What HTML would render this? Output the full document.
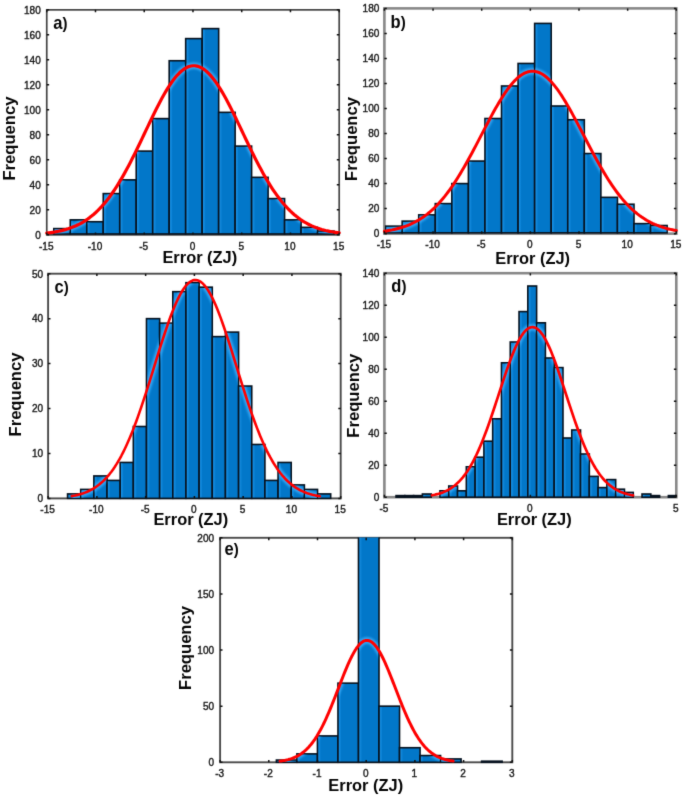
<!DOCTYPE html>
<html><head><meta charset="utf-8"><title>Error histograms</title>
<style>
html,body{margin:0;padding:0;background:#fff;}
body{width:685px;height:797px;overflow:hidden;}
svg{display:block;}
text{font-family:"Liberation Sans",sans-serif;}
.tk text{font-size:10.6px;fill:#1a1a1a;stroke:#1a1a1a;stroke-width:0.4px;}
.pl{font-size:18px;font-weight:bold;fill:#050505;}
.ax{font-size:16.6px;font-weight:bold;fill:#050505;}
.ax2{font-size:17.3px;font-weight:bold;fill:#050505;}
</style></head><body>
<svg width="685" height="797" viewBox="0 0 685 797"><defs><filter id="hb" x="-5%" y="-5%" width="110%" height="110%"><feGaussianBlur stdDeviation="0.9"/></filter><filter id="gblur" x="0" y="0" width="685" height="797" filterUnits="userSpaceOnUse" color-interpolation-filters="sRGB"><feConvolveMatrix order="3" kernelMatrix="0.01134 0.08382 0.01134 0.08382 0.61935 0.08382 0.01134 0.08382 0.01134" edgeMode="duplicate" preserveAlpha="true"/></filter><clipPath id="cpa"><rect x="46.75" y="9.55" width="292.45" height="226.5"/></clipPath><linearGradient id="ga" x1="0" x2="1" y1="0" y2="0"><stop offset="0" stop-color="#168fe4"/><stop offset="0.08" stop-color="#168fe4"/><stop offset="0.21" stop-color="#0277c9"/><stop offset="0.9" stop-color="#0277c9"/><stop offset="1" stop-color="#0c86de"/></linearGradient><clipPath id="cba"><rect x="54.5" y="229.3" width="15.08" height="4.15"/><rect x="70.98" y="220.55" width="15.08" height="12.9"/><rect x="87.47" y="222.42" width="15.08" height="11.02"/><rect x="103.95" y="194.3" width="15.08" height="39.15"/><rect x="120.44" y="180.55" width="15.08" height="52.9"/><rect x="136.92" y="151.8" width="15.08" height="81.65"/><rect x="153.41" y="119.3" width="15.08" height="114.15"/><rect x="169.89" y="61.42" width="15.08" height="172.03"/><rect x="186.38" y="39.3" width="15.08" height="194.15"/><rect x="202.87" y="29.3" width="15.08" height="204.15"/><rect x="219.35" y="113.05" width="15.08" height="120.4"/><rect x="235.83" y="146.8" width="15.08" height="86.65"/><rect x="252.32" y="178.05" width="15.08" height="55.4"/><rect x="268.81" y="199.3" width="15.08" height="34.15"/><rect x="285.29" y="220.55" width="15.08" height="12.9"/><rect x="301.77" y="228.05" width="15.08" height="5.4"/><rect x="318.26" y="231.8" width="15.08" height="1.65"/></clipPath><clipPath id="cpb"><rect x="384.4" y="8.09" width="291.9" height="226.75"/></clipPath><linearGradient id="gb" x1="0" x2="1" y1="0" y2="0"><stop offset="0" stop-color="#168fe4"/><stop offset="0.08" stop-color="#168fe4"/><stop offset="0.21" stop-color="#0277c9"/><stop offset="0.9" stop-color="#0277c9"/><stop offset="1" stop-color="#0c86de"/></linearGradient><clipPath id="cbb"><rect x="386.3" y="226.83" width="15.16" height="5.52"/><rect x="402.86" y="221.83" width="15.16" height="10.52"/><rect x="419.42" y="215.57" width="15.16" height="16.78"/><rect x="435.98" y="204.31" width="15.16" height="28.04"/><rect x="452.54" y="184.28" width="15.16" height="48.07"/><rect x="469.1" y="161.76" width="15.16" height="70.59"/><rect x="485.66" y="119.21" width="15.16" height="113.14"/><rect x="502.22" y="86.68" width="15.16" height="145.67"/><rect x="518.78" y="64.15" width="15.16" height="168.2"/><rect x="535.34" y="24.11" width="15.16" height="208.24"/><rect x="551.9" y="106.7" width="15.16" height="125.65"/><rect x="568.46" y="120.46" width="15.16" height="111.89"/><rect x="585.02" y="154.25" width="15.16" height="78.1"/><rect x="601.58" y="198.05" width="15.16" height="34.3"/><rect x="618.14" y="204.93" width="15.16" height="27.42"/><rect x="634.7" y="224.33" width="15.16" height="8.02"/><rect x="651.26" y="226.21" width="15.16" height="6.14"/></clipPath><clipPath id="cpc"><rect x="48.1" y="273.4" width="292.6" height="226.2"/></clipPath><linearGradient id="gc" x1="0" x2="1" y1="0" y2="0"><stop offset="0" stop-color="#168fe4"/><stop offset="0.1" stop-color="#168fe4"/><stop offset="0.26" stop-color="#0277c9"/><stop offset="0.88" stop-color="#0277c9"/><stop offset="1" stop-color="#0c86de"/></linearGradient><clipPath id="cbc"><rect x="68.25" y="494.61" width="11.76" height="3.29"/><rect x="81.41" y="490.11" width="11.76" height="7.79"/><rect x="94.56" y="476.63" width="11.76" height="21.27"/><rect x="107.72" y="481.12" width="11.76" height="16.78"/><rect x="120.88" y="463.15" width="11.76" height="34.75"/><rect x="134.03" y="427.2" width="11.76" height="70.7"/><rect x="147.19" y="319.34" width="11.76" height="178.56"/><rect x="160.35" y="323.83" width="11.76" height="174.07"/><rect x="173.51" y="292.38" width="11.76" height="205.52"/><rect x="186.66" y="283.39" width="11.76" height="214.51"/><rect x="199.82" y="287.88" width="11.76" height="210.02"/><rect x="212.98" y="337.32" width="11.76" height="160.58"/><rect x="226.13" y="332.82" width="11.76" height="165.08"/><rect x="239.29" y="386.75" width="11.76" height="111.15"/><rect x="252.45" y="445.17" width="11.76" height="52.73"/><rect x="265.6" y="481.12" width="11.76" height="16.78"/><rect x="278.76" y="463.15" width="11.76" height="34.75"/><rect x="291.92" y="485.62" width="11.76" height="12.28"/><rect x="305.08" y="490.11" width="11.76" height="7.79"/><rect x="318.23" y="494.61" width="11.76" height="3.29"/></clipPath><clipPath id="cpd"><rect x="384.4" y="272.9" width="291.9" height="225.5"/></clipPath><linearGradient id="gd" x1="0" x2="1" y1="0" y2="0"><stop offset="0" stop-color="#168fe4"/><stop offset="0.15" stop-color="#168fe4"/><stop offset="0.39" stop-color="#0277c9"/><stop offset="0.82" stop-color="#0277c9"/><stop offset="1" stop-color="#0c86de"/></linearGradient><clipPath id="cbd"><rect x="396.75" y="496.3" width="7.38" height="0.4"/><rect x="405.53" y="496.3" width="7.38" height="0.4"/><rect x="414.32" y="496.3" width="7.38" height="0.4"/><rect x="423.1" y="494.7" width="7.38" height="2"/><rect x="440.67" y="491.5" width="7.38" height="5.2"/><rect x="449.46" y="486.7" width="7.38" height="10"/><rect x="458.24" y="491.5" width="7.38" height="5.2"/><rect x="467.03" y="467.5" width="7.38" height="29.2"/><rect x="475.81" y="457.9" width="7.38" height="38.8"/><rect x="484.6" y="441.9" width="7.38" height="54.8"/><rect x="493.38" y="419.5" width="7.38" height="77.2"/><rect x="502.17" y="363.5" width="7.38" height="133.2"/><rect x="510.95" y="342.7" width="7.38" height="154"/><rect x="519.74" y="312.3" width="7.38" height="184.4"/><rect x="528.52" y="286.7" width="7.38" height="210"/><rect x="537.31" y="323.5" width="7.38" height="173.2"/><rect x="546.09" y="358.7" width="7.38" height="138"/><rect x="554.88" y="368.3" width="7.38" height="128.4"/><rect x="563.66" y="438.7" width="7.38" height="58"/><rect x="572.45" y="430.7" width="7.38" height="66"/><rect x="581.23" y="454.7" width="7.38" height="42"/><rect x="590.02" y="477.1" width="7.38" height="19.6"/><rect x="598.8" y="488.3" width="7.38" height="8.4"/><rect x="607.59" y="480.3" width="7.38" height="16.4"/><rect x="616.37" y="489.9" width="7.38" height="6.8"/><rect x="625.16" y="493.1" width="7.38" height="3.6"/><rect x="642.73" y="494.7" width="7.38" height="2"/><rect x="651.51" y="496.3" width="7.38" height="0.4"/><rect x="669.08" y="496.3" width="7.38" height="0.4"/></clipPath><clipPath id="cpe"><rect x="220.1" y="537.5" width="292.2" height="226"/></clipPath><linearGradient id="ge" x1="0" x2="1" y1="0" y2="0"><stop offset="0" stop-color="#168fe4"/><stop offset="0.06" stop-color="#168fe4"/><stop offset="0.17" stop-color="#0277c9"/><stop offset="0.92" stop-color="#0277c9"/><stop offset="1" stop-color="#0c86de"/></linearGradient><clipPath id="cbe"><rect x="277.1" y="760.75" width="19.12" height="1.05"/><rect x="297.62" y="754.58" width="19.12" height="7.22"/><rect x="318.14" y="736.62" width="19.12" height="25.18"/><rect x="338.66" y="683.86" width="19.12" height="77.94"/><rect x="359.18" y="538.5" width="19.12" height="223.3"/><rect x="379.7" y="706.88" width="19.12" height="54.92"/><rect x="400.22" y="748.41" width="19.12" height="13.39"/><rect x="420.74" y="756.26" width="19.12" height="5.54"/><rect x="441.26" y="759.63" width="19.12" height="2.17"/><rect x="482.3" y="761.88" width="19.12" height="0"/></clipPath></defs><g filter="url(#gblur)"><rect width="685" height="797" fill="#fff"/><g><rect x="46.75" y="9.85" width="292.45" height="225" fill="none" stroke="#444" stroke-width="1.7"/><g clip-path="url(#cpa)" fill="url(#ga)" stroke="#06121f" stroke-width="1.6"><rect x="53.8" y="228.6" width="16.48" height="5.35"/><rect x="70.28" y="219.85" width="16.48" height="14.1"/><rect x="86.77" y="221.72" width="16.48" height="12.22"/><rect x="103.25" y="193.6" width="16.48" height="40.35"/><rect x="119.74" y="179.85" width="16.48" height="54.1"/><rect x="136.22" y="151.1" width="16.48" height="82.85"/><rect x="152.71" y="118.6" width="16.48" height="115.35"/><rect x="169.19" y="60.72" width="16.48" height="173.22"/><rect x="185.68" y="38.6" width="16.48" height="195.35"/><rect x="202.17" y="28.6" width="16.48" height="205.35"/><rect x="218.65" y="112.35" width="16.48" height="121.6"/><rect x="235.13" y="146.1" width="16.48" height="87.85"/><rect x="251.62" y="177.35" width="16.48" height="56.6"/><rect x="268.11" y="198.6" width="16.48" height="35.35"/><rect x="284.59" y="219.85" width="16.48" height="14.1"/><rect x="301.07" y="227.35" width="16.48" height="6.6"/><rect x="317.56" y="231.1" width="16.48" height="2.85"/></g><g clip-path="url(#cba)"><polyline filter="url(#hb)" points="46.75,233.06 48.7,232.84 50.65,232.58 52.6,232.3 54.55,231.99 56.5,231.65 58.45,231.27 60.4,230.85 62.35,230.4 64.3,229.89 66.25,229.34 68.2,228.74 70.15,228.08 72.1,227.36 74.05,226.58 76,225.74 77.94,224.82 79.89,223.83 81.84,222.76 83.79,221.61 85.74,220.37 87.69,219.03 89.64,217.61 91.59,216.09 93.54,214.46 95.49,212.73 97.44,210.89 99.39,208.94 101.34,206.87 103.29,204.69 105.24,202.39 107.19,199.97 109.14,197.44 111.09,194.78 113.04,192 114.99,189.1 116.94,186.08 118.89,182.94 120.84,179.7 122.79,176.34 124.74,172.88 126.69,169.32 128.64,165.66 130.59,161.92 132.54,158.1 134.49,154.2 136.43,150.25 138.38,146.24 140.33,142.19 142.28,138.11 144.23,134.01 146.18,129.91 148.13,125.82 150.08,121.74 152.03,117.7 153.98,113.72 155.93,109.79 157.88,105.95 159.83,102.2 161.78,98.56 163.73,95.04 165.68,91.66 167.63,88.43 169.58,85.37 171.53,82.49 173.48,79.81 175.43,77.33 177.38,75.06 179.33,73.02 181.28,71.22 183.23,69.66 185.18,68.35 187.13,67.3 189.08,66.52 191.03,66 192.97,65.75 194.92,65.77 196.87,66.06 198.82,66.62 200.77,67.45 202.72,68.53 204.67,69.88 206.62,71.47 208.57,73.31 210.52,75.39 212.47,77.69 214.42,80.2 216.37,82.91 218.32,85.82 220.27,88.91 222.22,92.16 224.17,95.56 226.12,99.09 228.07,102.75 230.02,106.52 231.97,110.38 233.92,114.31 235.87,118.31 237.82,122.35 239.77,126.43 241.72,130.53 243.67,134.63 245.62,138.72 247.57,142.8 249.52,146.84 251.47,150.84 253.41,154.79 255.36,158.67 257.31,162.48 259.26,166.21 261.21,169.86 263.16,173.4 265.11,176.85 267.06,180.19 269.01,183.42 270.96,186.54 272.91,189.54 274.86,192.42 276.81,195.18 278.76,197.82 280.71,200.35 282.66,202.75 284.61,205.03 286.56,207.19 288.51,209.24 290.46,211.17 292.41,213 294.36,214.71 296.31,216.32 298.26,217.83 300.21,219.24 302.16,220.56 304.11,221.78 306.06,222.92 308.01,223.98 309.95,224.96 311.9,225.87 313.85,226.7 315.8,227.47 317.75,228.18 319.7,228.83 321.65,229.43 323.6,229.97 325.55,230.47 327.5,230.92 329.45,231.33 331.4,231.7 333.35,232.04 335.3,232.35 337.25,232.62 339.2,232.87" fill="none" stroke="#35a8f5" stroke-width="6.5" stroke-linejoin="round"/></g><polyline points="46.75,233.06 48.7,232.84 50.65,232.58 52.6,232.3 54.55,231.99 56.5,231.65 58.45,231.27 60.4,230.85 62.35,230.4 64.3,229.89 66.25,229.34 68.2,228.74 70.15,228.08 72.1,227.36 74.05,226.58 76,225.74 77.94,224.82 79.89,223.83 81.84,222.76 83.79,221.61 85.74,220.37 87.69,219.03 89.64,217.61 91.59,216.09 93.54,214.46 95.49,212.73 97.44,210.89 99.39,208.94 101.34,206.87 103.29,204.69 105.24,202.39 107.19,199.97 109.14,197.44 111.09,194.78 113.04,192 114.99,189.1 116.94,186.08 118.89,182.94 120.84,179.7 122.79,176.34 124.74,172.88 126.69,169.32 128.64,165.66 130.59,161.92 132.54,158.1 134.49,154.2 136.43,150.25 138.38,146.24 140.33,142.19 142.28,138.11 144.23,134.01 146.18,129.91 148.13,125.82 150.08,121.74 152.03,117.7 153.98,113.72 155.93,109.79 157.88,105.95 159.83,102.2 161.78,98.56 163.73,95.04 165.68,91.66 167.63,88.43 169.58,85.37 171.53,82.49 173.48,79.81 175.43,77.33 177.38,75.06 179.33,73.02 181.28,71.22 183.23,69.66 185.18,68.35 187.13,67.3 189.08,66.52 191.03,66 192.97,65.75 194.92,65.77 196.87,66.06 198.82,66.62 200.77,67.45 202.72,68.53 204.67,69.88 206.62,71.47 208.57,73.31 210.52,75.39 212.47,77.69 214.42,80.2 216.37,82.91 218.32,85.82 220.27,88.91 222.22,92.16 224.17,95.56 226.12,99.09 228.07,102.75 230.02,106.52 231.97,110.38 233.92,114.31 235.87,118.31 237.82,122.35 239.77,126.43 241.72,130.53 243.67,134.63 245.62,138.72 247.57,142.8 249.52,146.84 251.47,150.84 253.41,154.79 255.36,158.67 257.31,162.48 259.26,166.21 261.21,169.86 263.16,173.4 265.11,176.85 267.06,180.19 269.01,183.42 270.96,186.54 272.91,189.54 274.86,192.42 276.81,195.18 278.76,197.82 280.71,200.35 282.66,202.75 284.61,205.03 286.56,207.19 288.51,209.24 290.46,211.17 292.41,213 294.36,214.71 296.31,216.32 298.26,217.83 300.21,219.24 302.16,220.56 304.11,221.78 306.06,222.92 308.01,223.98 309.95,224.96 311.9,225.87 313.85,226.7 315.8,227.47 317.75,228.18 319.7,228.83 321.65,229.43 323.6,229.97 325.55,230.47 327.5,230.92 329.45,231.33 331.4,231.7 333.35,232.04 335.3,232.35 337.25,232.62 339.2,232.87" fill="none" stroke="#ff0000" stroke-width="3.2" stroke-linejoin="round" stroke-linecap="round"/><path d="M46.75 234.85h2.4M339.2 234.85h-2.4M46.75 209.85h2.4M339.2 209.85h-2.4M46.75 184.85h2.4M339.2 184.85h-2.4M46.75 159.85h2.4M339.2 159.85h-2.4M46.75 134.85h2.4M339.2 134.85h-2.4M46.75 109.85h2.4M339.2 109.85h-2.4M46.75 84.85h2.4M339.2 84.85h-2.4M46.75 59.85h2.4M339.2 59.85h-2.4M46.75 34.85h2.4M339.2 34.85h-2.4M46.75 9.85h2.4M339.2 9.85h-2.4M46.75 9.85v2.4M46.75 234.85v-2.4M95.49 9.85v2.4M95.49 234.85v-2.4M144.23 9.85v2.4M144.23 234.85v-2.4M192.97 9.85v2.4M192.97 234.85v-2.4M241.72 9.85v2.4M241.72 234.85v-2.4M290.46 9.85v2.4M290.46 234.85v-2.4M339.2 9.85v2.4M339.2 234.85v-2.4" stroke="#111" stroke-width="1.5" fill="none"/><g class="tk"><text transform="translate(40.75 238.65) scale(0.95 1)" text-anchor="end">0</text><text transform="translate(40.75 213.65) scale(0.95 1)" text-anchor="end">20</text><text transform="translate(40.75 188.65) scale(0.95 1)" text-anchor="end">40</text><text transform="translate(40.75 163.65) scale(0.95 1)" text-anchor="end">60</text><text transform="translate(40.75 138.65) scale(0.95 1)" text-anchor="end">80</text><text transform="translate(40.75 113.65) scale(0.95 1)" text-anchor="end">100</text><text transform="translate(40.75 88.65) scale(0.95 1)" text-anchor="end">120</text><text transform="translate(40.75 63.65) scale(0.95 1)" text-anchor="end">140</text><text transform="translate(40.75 38.65) scale(0.95 1)" text-anchor="end">160</text><text transform="translate(40.75 13.65) scale(0.95 1)" text-anchor="end">180</text><text transform="translate(46.25 249.95) scale(0.95 1)" text-anchor="middle">-15</text><text transform="translate(94.99 249.95) scale(0.95 1)" text-anchor="middle">-10</text><text transform="translate(143.73 249.95) scale(0.95 1)" text-anchor="middle">-5</text><text transform="translate(192.47 249.95) scale(0.95 1)" text-anchor="middle">0</text><text transform="translate(241.22 249.95) scale(0.95 1)" text-anchor="middle">5</text><text transform="translate(289.96 249.95) scale(0.95 1)" text-anchor="middle">10</text><text transform="translate(338.7 249.95) scale(0.95 1)" text-anchor="middle">15</text></g><text class="pl" transform="translate(53.3 28.6) scale(0.92 1)">a<tspan style="font-size:16.3px">)</tspan></text><text class="ax" transform="translate(14.8 138.6) rotate(-90)" text-anchor="middle">Frequency</text><text class="ax2" transform="translate(199.8 262.8) scale(0.95 1)" text-anchor="middle">Error (ZJ)</text></g><g><rect x="384.4" y="8.39" width="291.9" height="225.25" fill="none" stroke="#888" stroke-width="2.6"/><g clip-path="url(#cpb)" fill="url(#gb)" stroke="#06121f" stroke-width="1.6"><rect x="385.6" y="226.13" width="16.56" height="6.72"/><rect x="402.16" y="221.13" width="16.56" height="11.72"/><rect x="418.72" y="214.87" width="16.56" height="17.98"/><rect x="435.28" y="203.61" width="16.56" height="29.24"/><rect x="451.84" y="183.58" width="16.56" height="49.27"/><rect x="468.4" y="161.06" width="16.56" height="71.79"/><rect x="484.96" y="118.51" width="16.56" height="114.34"/><rect x="501.52" y="85.98" width="16.56" height="146.87"/><rect x="518.08" y="63.45" width="16.56" height="169.4"/><rect x="534.64" y="23.41" width="16.56" height="209.44"/><rect x="551.2" y="106" width="16.56" height="126.85"/><rect x="567.76" y="119.76" width="16.56" height="113.09"/><rect x="584.32" y="153.55" width="16.56" height="79.3"/><rect x="600.88" y="197.35" width="16.56" height="35.5"/><rect x="617.44" y="204.23" width="16.56" height="28.62"/><rect x="634" y="223.63" width="16.56" height="9.22"/><rect x="650.56" y="225.51" width="16.56" height="7.34"/></g><g clip-path="url(#cbb)"><polyline filter="url(#hb)" points="384.4,231.18 386.35,230.9 388.29,230.59 390.24,230.24 392.18,229.87 394.13,229.45 396.08,229 398.02,228.51 399.97,227.98 401.91,227.39 403.86,226.76 405.81,226.08 407.75,225.34 409.7,224.53 411.64,223.67 413.59,222.74 415.54,221.74 417.48,220.67 419.43,219.52 421.37,218.29 423.32,216.98 425.27,215.58 427.21,214.1 429.16,212.52 431.1,210.85 433.05,209.08 435,207.22 436.94,205.25 438.89,203.18 440.83,201.01 442.78,198.73 444.73,196.35 446.67,193.86 448.62,191.27 450.56,188.57 452.51,185.78 454.46,182.88 456.4,179.89 458.35,176.8 460.29,173.62 462.24,170.35 464.19,167 466.13,163.58 468.08,160.09 470.02,156.54 471.97,152.93 473.92,149.27 475.86,145.58 477.81,141.86 479.75,138.12 481.7,134.37 483.65,130.62 485.59,126.89 487.54,123.18 489.48,119.51 491.43,115.89 493.38,112.33 495.32,108.84 497.27,105.43 499.21,102.13 501.16,98.93 503.11,95.86 505.05,92.92 507,90.13 508.94,87.49 510.89,85.02 512.84,82.72 514.78,80.61 516.73,78.7 518.67,76.99 520.62,75.49 522.57,74.21 524.51,73.15 526.46,72.32 528.4,71.72 530.35,71.35 532.3,71.21 534.24,71.31 536.19,71.65 538.13,72.21 540.08,73.01 542.03,74.04 543.97,75.29 545.92,76.75 547.86,78.43 549.81,80.32 551.76,82.39 553.7,84.66 555.65,87.11 557.59,89.72 559.54,92.49 561.49,95.41 563.43,98.46 565.38,101.64 567.32,104.93 569.27,108.32 571.22,111.8 573.16,115.35 575.11,118.97 577.05,122.63 579,126.33 580.95,130.06 582.89,133.81 584.84,137.56 586.78,141.3 588.73,145.02 590.68,148.72 592.62,152.38 594.57,156 596.51,159.56 598.46,163.06 600.41,166.5 602.35,169.85 604.3,173.13 606.24,176.32 608.19,179.43 610.14,182.44 612.08,185.35 614.03,188.16 615.97,190.87 617.92,193.48 619.87,195.98 621.81,198.38 623.76,200.67 625.7,202.86 627.65,204.95 629.6,206.93 631.54,208.81 633.49,210.59 635.43,212.28 637.38,213.87 639.33,215.37 641.27,216.78 643.22,218.1 645.16,219.34 647.11,220.5 649.06,221.58 651,222.6 652.95,223.54 654.89,224.41 656.84,225.22 658.79,225.97 660.73,226.66 662.68,227.3 664.62,227.89 666.57,228.44 668.52,228.93 670.46,229.39 672.41,229.81 674.35,230.19 676.3,230.54" fill="none" stroke="#35a8f5" stroke-width="6.5" stroke-linejoin="round"/></g><polyline points="384.4,231.18 386.35,230.9 388.29,230.59 390.24,230.24 392.18,229.87 394.13,229.45 396.08,229 398.02,228.51 399.97,227.98 401.91,227.39 403.86,226.76 405.81,226.08 407.75,225.34 409.7,224.53 411.64,223.67 413.59,222.74 415.54,221.74 417.48,220.67 419.43,219.52 421.37,218.29 423.32,216.98 425.27,215.58 427.21,214.1 429.16,212.52 431.1,210.85 433.05,209.08 435,207.22 436.94,205.25 438.89,203.18 440.83,201.01 442.78,198.73 444.73,196.35 446.67,193.86 448.62,191.27 450.56,188.57 452.51,185.78 454.46,182.88 456.4,179.89 458.35,176.8 460.29,173.62 462.24,170.35 464.19,167 466.13,163.58 468.08,160.09 470.02,156.54 471.97,152.93 473.92,149.27 475.86,145.58 477.81,141.86 479.75,138.12 481.7,134.37 483.65,130.62 485.59,126.89 487.54,123.18 489.48,119.51 491.43,115.89 493.38,112.33 495.32,108.84 497.27,105.43 499.21,102.13 501.16,98.93 503.11,95.86 505.05,92.92 507,90.13 508.94,87.49 510.89,85.02 512.84,82.72 514.78,80.61 516.73,78.7 518.67,76.99 520.62,75.49 522.57,74.21 524.51,73.15 526.46,72.32 528.4,71.72 530.35,71.35 532.3,71.21 534.24,71.31 536.19,71.65 538.13,72.21 540.08,73.01 542.03,74.04 543.97,75.29 545.92,76.75 547.86,78.43 549.81,80.32 551.76,82.39 553.7,84.66 555.65,87.11 557.59,89.72 559.54,92.49 561.49,95.41 563.43,98.46 565.38,101.64 567.32,104.93 569.27,108.32 571.22,111.8 573.16,115.35 575.11,118.97 577.05,122.63 579,126.33 580.95,130.06 582.89,133.81 584.84,137.56 586.78,141.3 588.73,145.02 590.68,148.72 592.62,152.38 594.57,156 596.51,159.56 598.46,163.06 600.41,166.5 602.35,169.85 604.3,173.13 606.24,176.32 608.19,179.43 610.14,182.44 612.08,185.35 614.03,188.16 615.97,190.87 617.92,193.48 619.87,195.98 621.81,198.38 623.76,200.67 625.7,202.86 627.65,204.95 629.6,206.93 631.54,208.81 633.49,210.59 635.43,212.28 637.38,213.87 639.33,215.37 641.27,216.78 643.22,218.1 645.16,219.34 647.11,220.5 649.06,221.58 651,222.6 652.95,223.54 654.89,224.41 656.84,225.22 658.79,225.97 660.73,226.66 662.68,227.3 664.62,227.89 666.57,228.44 668.52,228.93 670.46,229.39 672.41,229.81 674.35,230.19 676.3,230.54" fill="none" stroke="#ff0000" stroke-width="3.0" stroke-linejoin="round" stroke-linecap="round"/><path d="M384.4 233.64h2.4M676.3 233.64h-2.4M384.4 208.61h2.4M676.3 208.61h-2.4M384.4 183.58h2.4M676.3 183.58h-2.4M384.4 158.56h2.4M676.3 158.56h-2.4M384.4 133.53h2.4M676.3 133.53h-2.4M384.4 108.5h2.4M676.3 108.5h-2.4M384.4 83.47h2.4M676.3 83.47h-2.4M384.4 58.45h2.4M676.3 58.45h-2.4M384.4 33.42h2.4M676.3 33.42h-2.4M384.4 8.39h2.4M676.3 8.39h-2.4M384.4 8.39v2.4M384.4 233.64v-2.4M433.05 8.39v2.4M433.05 233.64v-2.4M481.7 8.39v2.4M481.7 233.64v-2.4M530.35 8.39v2.4M530.35 233.64v-2.4M579 8.39v2.4M579 233.64v-2.4M627.65 8.39v2.4M627.65 233.64v-2.4M676.3 8.39v2.4M676.3 233.64v-2.4" stroke="#111" stroke-width="1.5" fill="none"/><g class="tk"><text transform="translate(379.4 237.44) scale(0.95 1)" text-anchor="end">0</text><text transform="translate(379.4 212.41) scale(0.95 1)" text-anchor="end">20</text><text transform="translate(379.4 187.38) scale(0.95 1)" text-anchor="end">40</text><text transform="translate(379.4 162.36) scale(0.95 1)" text-anchor="end">60</text><text transform="translate(379.4 137.33) scale(0.95 1)" text-anchor="end">80</text><text transform="translate(379.4 112.3) scale(0.95 1)" text-anchor="end">100</text><text transform="translate(379.4 87.27) scale(0.95 1)" text-anchor="end">120</text><text transform="translate(379.4 62.25) scale(0.95 1)" text-anchor="end">140</text><text transform="translate(379.4 37.22) scale(0.95 1)" text-anchor="end">160</text><text transform="translate(379.4 12.19) scale(0.95 1)" text-anchor="end">180</text><text transform="translate(383.9 248.24) scale(0.95 1)" text-anchor="middle">-15</text><text transform="translate(432.55 248.24) scale(0.95 1)" text-anchor="middle">-10</text><text transform="translate(481.2 248.24) scale(0.95 1)" text-anchor="middle">-5</text><text transform="translate(529.85 248.24) scale(0.95 1)" text-anchor="middle">0</text><text transform="translate(578.5 248.24) scale(0.95 1)" text-anchor="middle">5</text><text transform="translate(627.15 248.24) scale(0.95 1)" text-anchor="middle">10</text><text transform="translate(675.8 248.24) scale(0.95 1)" text-anchor="middle">15</text></g><text class="pl" transform="translate(390.6 27.6) scale(0.92 1)">b<tspan style="font-size:16.3px">)</tspan></text><text class="ax" transform="translate(357 139) rotate(-90)" text-anchor="middle">Frequency</text><text class="ax2" transform="translate(532.6 264) scale(0.95 1)" text-anchor="middle">Error (ZJ)</text></g><g><rect x="48.1" y="273.7" width="292.6" height="224.7" fill="none" stroke="#4a4a4a" stroke-width="1.9"/><g clip-path="url(#cpc)" fill="url(#gc)" stroke="#06121f" stroke-width="1.6"><rect x="67.55" y="493.91" width="13.16" height="4.49"/><rect x="80.71" y="489.41" width="13.16" height="8.99"/><rect x="93.86" y="475.93" width="13.16" height="22.47"/><rect x="107.02" y="480.42" width="13.16" height="17.98"/><rect x="120.18" y="462.45" width="13.16" height="35.95"/><rect x="133.33" y="426.5" width="13.16" height="71.9"/><rect x="146.49" y="318.64" width="13.16" height="179.76"/><rect x="159.65" y="323.13" width="13.16" height="175.27"/><rect x="172.81" y="291.68" width="13.16" height="206.72"/><rect x="185.96" y="282.69" width="13.16" height="215.71"/><rect x="199.12" y="287.18" width="13.16" height="211.22"/><rect x="212.28" y="336.62" width="13.16" height="161.78"/><rect x="225.43" y="332.12" width="13.16" height="166.28"/><rect x="238.59" y="386.05" width="13.16" height="112.35"/><rect x="251.75" y="444.47" width="13.16" height="53.93"/><rect x="264.9" y="480.42" width="13.16" height="17.98"/><rect x="278.06" y="462.45" width="13.16" height="35.95"/><rect x="291.22" y="484.92" width="13.16" height="13.48"/><rect x="304.38" y="489.41" width="13.16" height="8.99"/><rect x="317.53" y="493.91" width="13.16" height="4.49"/></g><g clip-path="url(#cbc)"><polyline filter="url(#hb)" points="71.7,496.11 73.36,495.81 75.01,495.49 76.67,495.12 78.32,494.72 79.97,494.27 81.63,493.78 83.28,493.23 84.94,492.63 86.59,491.97 88.24,491.25 89.9,490.46 91.55,489.6 93.21,488.66 94.86,487.64 96.52,486.53 98.17,485.32 99.82,484.02 101.48,482.61 103.13,481.09 104.79,479.46 106.44,477.71 108.09,475.83 109.75,473.83 111.4,471.68 113.06,469.4 114.71,466.97 116.37,464.4 118.02,461.68 119.67,458.8 121.33,455.77 122.98,452.58 124.64,449.23 126.29,445.72 127.94,442.05 129.6,438.23 131.25,434.25 132.91,430.12 134.56,425.84 136.22,421.42 137.87,416.87 139.52,412.18 141.18,407.37 142.83,402.46 144.49,397.44 146.14,392.33 147.79,387.15 149.45,381.9 151.1,376.6 152.76,371.28 154.41,365.93 156.07,360.58 157.72,355.25 159.37,349.96 161.03,344.72 162.68,339.56 164.34,334.49 165.99,329.54 167.64,324.72 169.3,320.05 170.95,315.55 172.61,311.25 174.26,307.16 175.92,303.3 177.57,299.68 179.22,296.33 180.88,293.25 182.53,290.47 184.19,287.99 185.84,285.83 187.49,284 189.15,282.5 190.8,281.35 192.46,280.55 194.11,280.1 195.77,280 197.42,280.26 199.07,280.88 200.73,281.85 202.38,283.16 204.04,284.82 205.69,286.81 207.34,289.12 209,291.74 210.65,294.67 212.31,297.87 213.96,301.35 215.62,305.09 217.27,309.06 218.92,313.26 220.58,317.65 222.23,322.23 223.89,326.97 225.54,331.86 227.19,336.87 228.85,341.99 230.5,347.19 232.16,352.45 233.81,357.76 235.47,363.1 237.12,368.45 238.77,373.79 240.43,379.11 242.08,384.38 243.74,389.6 245.39,394.75 247.04,399.82 248.7,404.79 250.35,409.66 252.01,414.41 253.66,419.03 255.32,423.52 256.97,427.88 258.62,432.09 260.28,436.15 261.93,440.05 263.59,443.8 265.24,447.39 266.89,450.83 268.55,454.1 270.2,457.22 271.86,460.18 273.51,462.98 275.17,465.63 276.82,468.14 278.47,470.49 280.13,472.71 281.78,474.79 283.44,476.73 285.09,478.55 286.74,480.25 288.4,481.82 290.05,483.29 291.71,484.65 293.36,485.9 295.02,487.06 296.67,488.13 298.32,489.11 299.98,490.02 301.63,490.85 303.29,491.6 304.94,492.29 306.59,492.92 308.25,493.5 309.9,494.02 311.56,494.49 313.21,494.91 314.87,495.3 316.52,495.64 318.17,495.96 319.83,496.24" fill="none" stroke="#35a8f5" stroke-width="6.5" stroke-linejoin="round"/></g><polyline points="71.7,496.11 73.36,495.81 75.01,495.49 76.67,495.12 78.32,494.72 79.97,494.27 81.63,493.78 83.28,493.23 84.94,492.63 86.59,491.97 88.24,491.25 89.9,490.46 91.55,489.6 93.21,488.66 94.86,487.64 96.52,486.53 98.17,485.32 99.82,484.02 101.48,482.61 103.13,481.09 104.79,479.46 106.44,477.71 108.09,475.83 109.75,473.83 111.4,471.68 113.06,469.4 114.71,466.97 116.37,464.4 118.02,461.68 119.67,458.8 121.33,455.77 122.98,452.58 124.64,449.23 126.29,445.72 127.94,442.05 129.6,438.23 131.25,434.25 132.91,430.12 134.56,425.84 136.22,421.42 137.87,416.87 139.52,412.18 141.18,407.37 142.83,402.46 144.49,397.44 146.14,392.33 147.79,387.15 149.45,381.9 151.1,376.6 152.76,371.28 154.41,365.93 156.07,360.58 157.72,355.25 159.37,349.96 161.03,344.72 162.68,339.56 164.34,334.49 165.99,329.54 167.64,324.72 169.3,320.05 170.95,315.55 172.61,311.25 174.26,307.16 175.92,303.3 177.57,299.68 179.22,296.33 180.88,293.25 182.53,290.47 184.19,287.99 185.84,285.83 187.49,284 189.15,282.5 190.8,281.35 192.46,280.55 194.11,280.1 195.77,280 197.42,280.26 199.07,280.88 200.73,281.85 202.38,283.16 204.04,284.82 205.69,286.81 207.34,289.12 209,291.74 210.65,294.67 212.31,297.87 213.96,301.35 215.62,305.09 217.27,309.06 218.92,313.26 220.58,317.65 222.23,322.23 223.89,326.97 225.54,331.86 227.19,336.87 228.85,341.99 230.5,347.19 232.16,352.45 233.81,357.76 235.47,363.1 237.12,368.45 238.77,373.79 240.43,379.11 242.08,384.38 243.74,389.6 245.39,394.75 247.04,399.82 248.7,404.79 250.35,409.66 252.01,414.41 253.66,419.03 255.32,423.52 256.97,427.88 258.62,432.09 260.28,436.15 261.93,440.05 263.59,443.8 265.24,447.39 266.89,450.83 268.55,454.1 270.2,457.22 271.86,460.18 273.51,462.98 275.17,465.63 276.82,468.14 278.47,470.49 280.13,472.71 281.78,474.79 283.44,476.73 285.09,478.55 286.74,480.25 288.4,481.82 290.05,483.29 291.71,484.65 293.36,485.9 295.02,487.06 296.67,488.13 298.32,489.11 299.98,490.02 301.63,490.85 303.29,491.6 304.94,492.29 306.59,492.92 308.25,493.5 309.9,494.02 311.56,494.49 313.21,494.91 314.87,495.3 316.52,495.64 318.17,495.96 319.83,496.24" fill="none" stroke="#ff0000" stroke-width="2.6" stroke-linejoin="round" stroke-linecap="round"/><path d="M48.1 498.4h2.4M340.7 498.4h-2.4M48.1 453.46h2.4M340.7 453.46h-2.4M48.1 408.52h2.4M340.7 408.52h-2.4M48.1 363.58h2.4M340.7 363.58h-2.4M48.1 318.64h2.4M340.7 318.64h-2.4M48.1 273.7h2.4M340.7 273.7h-2.4M48.1 273.7v2.4M48.1 498.4v-2.4M96.87 273.7v2.4M96.87 498.4v-2.4M145.63 273.7v2.4M145.63 498.4v-2.4M194.4 273.7v2.4M194.4 498.4v-2.4M243.17 273.7v2.4M243.17 498.4v-2.4M291.93 273.7v2.4M291.93 498.4v-2.4M340.7 273.7v2.4M340.7 498.4v-2.4" stroke="#111" stroke-width="1.5" fill="none"/><g class="tk"><text transform="translate(43.1 502.2) scale(0.95 1)" text-anchor="end">0</text><text transform="translate(43.1 457.26) scale(0.95 1)" text-anchor="end">10</text><text transform="translate(43.1 412.32) scale(0.95 1)" text-anchor="end">20</text><text transform="translate(43.1 367.38) scale(0.95 1)" text-anchor="end">30</text><text transform="translate(43.1 322.44) scale(0.95 1)" text-anchor="end">40</text><text transform="translate(43.1 277.5) scale(0.95 1)" text-anchor="end">50</text><text transform="translate(47.6 513.2) scale(0.95 1)" text-anchor="middle">-15</text><text transform="translate(96.37 513.2) scale(0.95 1)" text-anchor="middle">-10</text><text transform="translate(145.13 513.2) scale(0.95 1)" text-anchor="middle">-5</text><text transform="translate(193.9 513.2) scale(0.95 1)" text-anchor="middle">0</text><text transform="translate(242.67 513.2) scale(0.95 1)" text-anchor="middle">5</text><text transform="translate(291.43 513.2) scale(0.95 1)" text-anchor="middle">10</text><text transform="translate(340.2 513.2) scale(0.95 1)" text-anchor="middle">15</text></g><text class="pl" transform="translate(54.6 293.3) scale(0.92 1)">c<tspan style="font-size:16.3px">)</tspan></text><text class="ax" transform="translate(20.8 394.5) rotate(-90)" text-anchor="middle">Frequency</text><text class="ax2" transform="translate(190.8 525.2) scale(0.95 1)" text-anchor="middle">Error (ZJ)</text></g><g><rect x="384.4" y="273.2" width="291.9" height="224" fill="none" stroke="#888" stroke-width="2.6"/><g clip-path="url(#cpd)" fill="url(#gd)" stroke="#06121f" stroke-width="1.6"><rect x="396.05" y="495.6" width="8.79" height="1.6"/><rect x="404.83" y="495.6" width="8.79" height="1.6"/><rect x="413.62" y="495.6" width="8.79" height="1.6"/><rect x="422.4" y="494" width="8.79" height="3.2"/><rect x="439.97" y="490.8" width="8.79" height="6.4"/><rect x="448.76" y="486" width="8.79" height="11.2"/><rect x="457.54" y="490.8" width="8.79" height="6.4"/><rect x="466.33" y="466.8" width="8.79" height="30.4"/><rect x="475.11" y="457.2" width="8.79" height="40"/><rect x="483.9" y="441.2" width="8.79" height="56"/><rect x="492.68" y="418.8" width="8.79" height="78.4"/><rect x="501.47" y="362.8" width="8.79" height="134.4"/><rect x="510.25" y="342" width="8.79" height="155.2"/><rect x="519.04" y="311.6" width="8.79" height="185.6"/><rect x="527.82" y="286" width="8.79" height="211.2"/><rect x="536.61" y="322.8" width="8.79" height="174.4"/><rect x="545.39" y="358" width="8.79" height="139.2"/><rect x="554.18" y="367.6" width="8.79" height="129.6"/><rect x="562.96" y="438" width="8.79" height="59.2"/><rect x="571.75" y="430" width="8.79" height="67.2"/><rect x="580.53" y="454" width="8.79" height="43.2"/><rect x="589.32" y="476.4" width="8.79" height="20.8"/><rect x="598.1" y="487.6" width="8.79" height="9.6"/><rect x="606.89" y="479.6" width="8.79" height="17.6"/><rect x="615.67" y="489.2" width="8.79" height="8"/><rect x="624.46" y="492.4" width="8.79" height="4.8"/><rect x="642.03" y="494" width="8.79" height="3.2"/><rect x="650.81" y="495.6" width="8.79" height="1.6"/><rect x="668.38" y="495.6" width="8.79" height="1.6"/></g><g clip-path="url(#cbd)"><polyline filter="url(#hb)" points="431.98,495.26 433.32,495.02 434.66,494.75 436,494.44 437.34,494.11 438.68,493.75 440.02,493.34 441.37,492.9 442.71,492.41 444.05,491.87 445.39,491.29 446.73,490.65 448.07,489.95 449.41,489.19 450.75,488.37 452.09,487.47 453.43,486.51 454.77,485.46 456.11,484.34 457.45,483.12 458.8,481.82 460.14,480.43 461.48,478.94 462.82,477.35 464.16,475.65 465.5,473.85 466.84,471.93 468.18,469.9 469.52,467.76 470.86,465.5 472.2,463.12 473.54,460.62 474.89,457.99 476.23,455.25 477.57,452.39 478.91,449.41 480.25,446.31 481.59,443.09 482.93,439.76 484.27,436.33 485.61,432.8 486.95,429.16 488.29,425.44 489.63,421.64 490.97,417.75 492.32,413.81 493.66,409.8 495,405.75 496.34,401.67 497.68,397.56 499.02,393.44 500.36,389.33 501.7,385.22 503.04,381.15 504.38,377.12 505.72,373.15 507.06,369.26 508.4,365.45 509.75,361.74 511.09,358.15 512.43,354.69 513.77,351.38 515.11,348.24 516.45,345.26 517.79,342.47 519.13,339.89 520.47,337.51 521.81,335.36 523.15,333.44 524.49,331.76 525.84,330.33 527.18,329.16 528.52,328.25 529.86,327.6 531.2,327.23 532.54,327.12 533.88,327.29 535.22,327.72 536.56,328.43 537.9,329.4 539.24,330.62 540.58,332.11 541.92,333.84 543.27,335.81 544.61,338.01 545.95,340.43 547.29,343.06 548.63,345.89 549.97,348.91 551.31,352.09 552.65,355.43 553.99,358.92 555.33,362.54 556.67,366.27 558.01,370.1 559.36,374.01 560.7,378 562.04,382.04 563.38,386.12 564.72,390.22 566.06,394.34 567.4,398.46 568.74,402.56 570.08,406.64 571.42,410.68 572.76,414.67 574.1,418.61 575.44,422.47 576.79,426.26 578.13,429.96 579.47,433.57 580.81,437.09 582.15,440.5 583.49,443.8 584.83,446.99 586.17,450.06 587.51,453.02 588.85,455.86 590.19,458.58 591.53,461.17 592.87,463.65 594.22,466 595.56,468.24 596.9,470.36 598.24,472.36 599.58,474.25 600.92,476.03 602.26,477.7 603.6,479.27 604.94,480.74 606.28,482.11 607.62,483.4 608.96,484.59 610.31,485.69 611.65,486.72 612.99,487.67 614.33,488.55 615.67,489.36 617.01,490.11 618.35,490.79 619.69,491.42 621.03,491.99 622.37,492.52 623.71,493 625.05,493.43 626.39,493.83 627.74,494.19 629.08,494.51 630.42,494.81 631.76,495.07 633.1,495.31" fill="none" stroke="#35a8f5" stroke-width="6.5" stroke-linejoin="round"/></g><polyline points="431.98,495.26 433.32,495.02 434.66,494.75 436,494.44 437.34,494.11 438.68,493.75 440.02,493.34 441.37,492.9 442.71,492.41 444.05,491.87 445.39,491.29 446.73,490.65 448.07,489.95 449.41,489.19 450.75,488.37 452.09,487.47 453.43,486.51 454.77,485.46 456.11,484.34 457.45,483.12 458.8,481.82 460.14,480.43 461.48,478.94 462.82,477.35 464.16,475.65 465.5,473.85 466.84,471.93 468.18,469.9 469.52,467.76 470.86,465.5 472.2,463.12 473.54,460.62 474.89,457.99 476.23,455.25 477.57,452.39 478.91,449.41 480.25,446.31 481.59,443.09 482.93,439.76 484.27,436.33 485.61,432.8 486.95,429.16 488.29,425.44 489.63,421.64 490.97,417.75 492.32,413.81 493.66,409.8 495,405.75 496.34,401.67 497.68,397.56 499.02,393.44 500.36,389.33 501.7,385.22 503.04,381.15 504.38,377.12 505.72,373.15 507.06,369.26 508.4,365.45 509.75,361.74 511.09,358.15 512.43,354.69 513.77,351.38 515.11,348.24 516.45,345.26 517.79,342.47 519.13,339.89 520.47,337.51 521.81,335.36 523.15,333.44 524.49,331.76 525.84,330.33 527.18,329.16 528.52,328.25 529.86,327.6 531.2,327.23 532.54,327.12 533.88,327.29 535.22,327.72 536.56,328.43 537.9,329.4 539.24,330.62 540.58,332.11 541.92,333.84 543.27,335.81 544.61,338.01 545.95,340.43 547.29,343.06 548.63,345.89 549.97,348.91 551.31,352.09 552.65,355.43 553.99,358.92 555.33,362.54 556.67,366.27 558.01,370.1 559.36,374.01 560.7,378 562.04,382.04 563.38,386.12 564.72,390.22 566.06,394.34 567.4,398.46 568.74,402.56 570.08,406.64 571.42,410.68 572.76,414.67 574.1,418.61 575.44,422.47 576.79,426.26 578.13,429.96 579.47,433.57 580.81,437.09 582.15,440.5 583.49,443.8 584.83,446.99 586.17,450.06 587.51,453.02 588.85,455.86 590.19,458.58 591.53,461.17 592.87,463.65 594.22,466 595.56,468.24 596.9,470.36 598.24,472.36 599.58,474.25 600.92,476.03 602.26,477.7 603.6,479.27 604.94,480.74 606.28,482.11 607.62,483.4 608.96,484.59 610.31,485.69 611.65,486.72 612.99,487.67 614.33,488.55 615.67,489.36 617.01,490.11 618.35,490.79 619.69,491.42 621.03,491.99 622.37,492.52 623.71,493 625.05,493.43 626.39,493.83 627.74,494.19 629.08,494.51 630.42,494.81 631.76,495.07 633.1,495.31" fill="none" stroke="#ff0000" stroke-width="2.7" stroke-linejoin="round" stroke-linecap="round"/><path d="M384.4 497.2h2.4M676.3 497.2h-2.4M384.4 465.2h2.4M676.3 465.2h-2.4M384.4 433.2h2.4M676.3 433.2h-2.4M384.4 401.2h2.4M676.3 401.2h-2.4M384.4 369.2h2.4M676.3 369.2h-2.4M384.4 337.2h2.4M676.3 337.2h-2.4M384.4 305.2h2.4M676.3 305.2h-2.4M384.4 273.2h2.4M676.3 273.2h-2.4M384.4 273.2v2.4M384.4 497.2v-2.4M530.35 273.2v2.4M530.35 497.2v-2.4M676.3 273.2v2.4M676.3 497.2v-2.4" stroke="#111" stroke-width="1.5" fill="none"/><g class="tk"><text transform="translate(379.4 501) scale(0.95 1)" text-anchor="end">0</text><text transform="translate(379.4 469) scale(0.95 1)" text-anchor="end">20</text><text transform="translate(379.4 437) scale(0.95 1)" text-anchor="end">40</text><text transform="translate(379.4 405) scale(0.95 1)" text-anchor="end">60</text><text transform="translate(379.4 373) scale(0.95 1)" text-anchor="end">80</text><text transform="translate(379.4 341) scale(0.95 1)" text-anchor="end">100</text><text transform="translate(379.4 309) scale(0.95 1)" text-anchor="end">120</text><text transform="translate(379.4 277) scale(0.95 1)" text-anchor="end">140</text><text transform="translate(383.9 512) scale(0.95 1)" text-anchor="middle">-5</text><text transform="translate(529.85 512) scale(0.95 1)" text-anchor="middle">0</text><text transform="translate(675.8 512) scale(0.95 1)" text-anchor="middle">5</text></g><text class="pl" transform="translate(391.3 291.5) scale(0.92 1)">d<tspan style="font-size:16.3px">)</tspan></text><text class="ax" transform="translate(359.3 395.7) rotate(-90)" text-anchor="middle">Frequency</text><text class="ax2" transform="translate(534.3 525.2) scale(0.95 1)" text-anchor="middle">Error (ZJ)</text></g><g><rect x="220.1" y="537.8" width="292.2" height="224.5" fill="none" stroke="#4a4a4a" stroke-width="1.9"/><g clip-path="url(#cpe)" fill="url(#ge)" stroke="#06121f" stroke-width="1.6"><rect x="276.4" y="760.05" width="20.52" height="2.25"/><rect x="296.92" y="753.88" width="20.52" height="8.42"/><rect x="317.44" y="735.92" width="20.52" height="26.38"/><rect x="337.96" y="683.16" width="20.52" height="79.14"/><rect x="358.48" y="470.45" width="20.52" height="291.85"/><rect x="379" y="706.17" width="20.52" height="56.12"/><rect x="399.52" y="747.71" width="20.52" height="14.59"/><rect x="420.04" y="755.56" width="20.52" height="6.74"/><rect x="440.56" y="758.93" width="20.52" height="3.37"/><rect x="481.6" y="761.18" width="20.52" height="1.12"/></g><g clip-path="url(#cbe)"><polyline filter="url(#hb)" points="280,761.12 281.16,760.97 282.31,760.8 283.46,760.61 284.62,760.4 285.77,760.16 286.93,759.9 288.08,759.62 289.24,759.3 290.39,758.96 291.55,758.58 292.7,758.16 293.86,757.71 295.01,757.21 296.16,756.67 297.32,756.08 298.47,755.44 299.63,754.74 300.78,753.99 301.94,753.19 303.09,752.31 304.25,751.38 305.4,750.37 306.55,749.3 307.71,748.14 308.86,746.92 310.02,745.61 311.17,744.22 312.33,742.75 313.48,741.2 314.64,739.56 315.79,737.82 316.95,736.01 318.1,734.1 319.25,732.1 320.41,730.02 321.56,727.84 322.72,725.59 323.87,723.24 325.03,720.82 326.18,718.32 327.34,715.74 328.49,713.09 329.65,710.38 330.8,707.6 331.95,704.78 333.11,701.9 334.26,698.99 335.42,696.04 336.57,693.07 337.73,690.09 338.88,687.1 340.04,684.11 341.19,681.14 342.34,678.19 343.5,675.28 344.65,672.41 345.81,669.6 346.96,666.86 348.12,664.2 349.27,661.64 350.43,659.17 351.58,656.81 352.74,654.58 353.89,652.48 355.04,650.52 356.2,648.72 357.35,647.07 358.51,645.59 359.66,644.29 360.82,643.16 361.97,642.22 363.13,641.47 364.28,640.92 365.44,640.56 366.59,640.41 367.74,640.45 368.9,640.69 370.05,641.12 371.21,641.76 372.36,642.58 373.52,643.6 374.67,644.8 375.83,646.18 376.98,647.73 378.13,649.44 379.29,651.31 380.44,653.32 381.6,655.48 382.75,657.76 383.91,660.17 385.06,662.68 386.22,665.28 387.37,667.98 388.53,670.75 389.68,673.58 390.83,676.46 391.99,679.39 393.14,682.35 394.3,685.33 395.45,688.32 396.61,691.31 397.76,694.29 398.92,697.25 400.07,700.19 401.23,703.08 402.38,705.94 403.53,708.75 404.69,711.5 405.84,714.18 407,716.8 408.15,719.35 409.31,721.82 410.46,724.21 411.62,726.52 412.77,728.74 413.92,730.88 415.08,732.93 416.23,734.89 417.39,736.76 418.54,738.54 419.7,740.24 420.85,741.84 422.01,743.37 423.16,744.8 424.32,746.16 425.47,747.43 426.62,748.62 427.78,749.74 428.93,750.79 430.09,751.77 431.24,752.68 432.4,753.52 433.55,754.31 434.71,755.03 435.86,755.71 437.01,756.32 438.17,756.89 439.32,757.42 440.48,757.9 441.63,758.34 442.79,758.74 443.94,759.1 445.1,759.44 446.25,759.74 447.41,760.01 448.56,760.26 449.71,760.49 450.87,760.69 452.02,760.87 453.18,761.03" fill="none" stroke="#35a8f5" stroke-width="6.5" stroke-linejoin="round"/></g><polyline points="280,761.12 281.16,760.97 282.31,760.8 283.46,760.61 284.62,760.4 285.77,760.16 286.93,759.9 288.08,759.62 289.24,759.3 290.39,758.96 291.55,758.58 292.7,758.16 293.86,757.71 295.01,757.21 296.16,756.67 297.32,756.08 298.47,755.44 299.63,754.74 300.78,753.99 301.94,753.19 303.09,752.31 304.25,751.38 305.4,750.37 306.55,749.3 307.71,748.14 308.86,746.92 310.02,745.61 311.17,744.22 312.33,742.75 313.48,741.2 314.64,739.56 315.79,737.82 316.95,736.01 318.1,734.1 319.25,732.1 320.41,730.02 321.56,727.84 322.72,725.59 323.87,723.24 325.03,720.82 326.18,718.32 327.34,715.74 328.49,713.09 329.65,710.38 330.8,707.6 331.95,704.78 333.11,701.9 334.26,698.99 335.42,696.04 336.57,693.07 337.73,690.09 338.88,687.1 340.04,684.11 341.19,681.14 342.34,678.19 343.5,675.28 344.65,672.41 345.81,669.6 346.96,666.86 348.12,664.2 349.27,661.64 350.43,659.17 351.58,656.81 352.74,654.58 353.89,652.48 355.04,650.52 356.2,648.72 357.35,647.07 358.51,645.59 359.66,644.29 360.82,643.16 361.97,642.22 363.13,641.47 364.28,640.92 365.44,640.56 366.59,640.41 367.74,640.45 368.9,640.69 370.05,641.12 371.21,641.76 372.36,642.58 373.52,643.6 374.67,644.8 375.83,646.18 376.98,647.73 378.13,649.44 379.29,651.31 380.44,653.32 381.6,655.48 382.75,657.76 383.91,660.17 385.06,662.68 386.22,665.28 387.37,667.98 388.53,670.75 389.68,673.58 390.83,676.46 391.99,679.39 393.14,682.35 394.3,685.33 395.45,688.32 396.61,691.31 397.76,694.29 398.92,697.25 400.07,700.19 401.23,703.08 402.38,705.94 403.53,708.75 404.69,711.5 405.84,714.18 407,716.8 408.15,719.35 409.31,721.82 410.46,724.21 411.62,726.52 412.77,728.74 413.92,730.88 415.08,732.93 416.23,734.89 417.39,736.76 418.54,738.54 419.7,740.24 420.85,741.84 422.01,743.37 423.16,744.8 424.32,746.16 425.47,747.43 426.62,748.62 427.78,749.74 428.93,750.79 430.09,751.77 431.24,752.68 432.4,753.52 433.55,754.31 434.71,755.03 435.86,755.71 437.01,756.32 438.17,756.89 439.32,757.42 440.48,757.9 441.63,758.34 442.79,758.74 443.94,759.1 445.1,759.44 446.25,759.74 447.41,760.01 448.56,760.26 449.71,760.49 450.87,760.69 452.02,760.87 453.18,761.03" fill="none" stroke="#ff0000" stroke-width="3.0" stroke-linejoin="round" stroke-linecap="round"/><path d="M220.1 762.3h2.4M512.3 762.3h-2.4M220.1 706.17h2.4M512.3 706.17h-2.4M220.1 650.05h2.4M512.3 650.05h-2.4M220.1 593.92h2.4M512.3 593.92h-2.4M220.1 537.8h2.4M512.3 537.8h-2.4M220.1 537.8v2.4M220.1 762.3v-2.4M268.8 537.8v2.4M268.8 762.3v-2.4M317.5 537.8v2.4M317.5 762.3v-2.4M366.2 537.8v2.4M366.2 762.3v-2.4M414.9 537.8v2.4M414.9 762.3v-2.4M463.6 537.8v2.4M463.6 762.3v-2.4M512.3 537.8v2.4M512.3 762.3v-2.4" stroke="#111" stroke-width="1.5" fill="none"/><g class="tk"><text transform="translate(214.1 766.1) scale(0.95 1)" text-anchor="end">0</text><text transform="translate(214.1 709.97) scale(0.95 1)" text-anchor="end">50</text><text transform="translate(214.1 653.85) scale(0.95 1)" text-anchor="end">100</text><text transform="translate(214.1 597.72) scale(0.95 1)" text-anchor="end">150</text><text transform="translate(214.1 541.6) scale(0.95 1)" text-anchor="end">200</text><text transform="translate(219.6 777.1) scale(0.95 1)" text-anchor="middle">-3</text><text transform="translate(268.3 777.1) scale(0.95 1)" text-anchor="middle">-2</text><text transform="translate(317 777.1) scale(0.95 1)" text-anchor="middle">-1</text><text transform="translate(365.7 777.1) scale(0.95 1)" text-anchor="middle">0</text><text transform="translate(414.4 777.1) scale(0.95 1)" text-anchor="middle">1</text><text transform="translate(463.1 777.1) scale(0.95 1)" text-anchor="middle">2</text><text transform="translate(511.8 777.1) scale(0.95 1)" text-anchor="middle">3</text></g><text class="pl" transform="translate(224.6 554.8) scale(0.92 1)">e<tspan style="font-size:16.3px">)</tspan></text><text class="ax" transform="translate(190.6 648) rotate(-90)" text-anchor="middle">Frequency</text><text class="ax2" transform="translate(365.7 791) scale(0.95 1)" text-anchor="middle">Error (ZJ)</text></g></g></svg>
</body></html>
